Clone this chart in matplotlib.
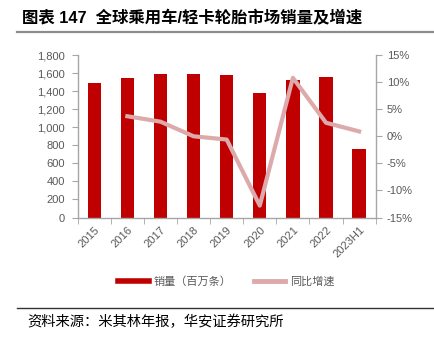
import matplotlib
matplotlib.use("Agg")
import matplotlib.pyplot as plt
from matplotlib.lines import Line2D
from matplotlib.ticker import FuncFormatter, FixedLocator

plt.rcParams['font.family'] = ['Liberation Sans', 'Noto Sans CJK SC', 'DejaVu Sans']

# Data
years = ['2015', '2016', '2017', '2018', '2019', '2020', '2021', '2022', '2023H1']
sales = [1490, 1542, 1587, 1585, 1575, 1377, 1520, 1557, 761]          # million units
growth = [None, 3.7, 2.7, 0.0, -0.6, -12.8, 10.8, 2.5, 0.9]             # YoY %

bar_color = '#C00000'
line_color = '#DCAAAA'
axis_gray = '#A6A6A6'
text_gray = '#595959'

fig = plt.figure(figsize=(4.35, 3.42), dpi=100)
ax = fig.add_axes([0.1786, 0.364, 0.685, 0.475])

x = list(range(len(years)))
ax.bar(x, sales, width=0.4, color=bar_color, zorder=2)
ax.set_xlim(-0.5, len(years) - 0.5)
ax.set_ylim(0, 1800)
ax.set_yticks(range(0, 1801, 200))
ax.yaxis.set_major_formatter(FuncFormatter(lambda v, p: f'{int(v):,}'))

ax.set_xticks(x)
ax.set_xticklabels(years, rotation=45, ha='right', rotation_mode='anchor')
ax.xaxis.set_minor_locator(FixedLocator([i - 0.5 for i in range(len(years) + 1)]))
ax.tick_params(axis='x', which='major', length=0, pad=5)
ax.tick_params(axis='x', which='minor', length=4, color=axis_gray, direction='out')
ax.tick_params(axis='y', length=4, color=axis_gray, direction='out', pad=5)
ax.tick_params(labelsize=8, labelcolor=text_gray)

for side in ['top', 'right']:
    ax.spines[side].set_visible(False)
for side in ['left', 'bottom']:
    ax.spines[side].set_color(axis_gray)
    ax.spines[side].set_linewidth(1.0)

ax2 = ax.twinx()
gx = [i for i, g in zip(x, growth) if g is not None]
gy = [g for g in growth if g is not None]
ax2.plot(gx, gy, color=line_color, linewidth=3.0, solid_joinstyle='round', zorder=3)
ax2.set_ylim(-15, 15)
ax2.set_yticks(range(-15, 16, 5))
ax2.yaxis.set_major_formatter(FuncFormatter(lambda v, p: f'{int(v)}%'))
ax2.tick_params(axis='y', length=4, color=axis_gray, direction='out', labelsize=8,
                labelcolor=text_gray, pad=4)
for side in ['top', 'left', 'bottom']:
    ax2.spines[side].set_visible(False)
ax2.spines['right'].set_color(axis_gray)
ax2.spines['right'].set_linewidth(1.0)

# Legend
handles = [Line2D([], [], color=bar_color, linewidth=4),
           Line2D([], [], color=line_color, linewidth=3.5)]
fig.legend(handles, ['销量（百万条）', '同比增速'], loc='center',
           bbox_to_anchor=(226 / 435, 1 - 282 / 342), ncol=2, frameon=False,
           labelcolor=text_gray, handlelength=2.8, handletextpad=0.45,
           columnspacing=2.0, prop={'family': ['Noto Sans CJK SC'], 'size': 8})

# Title and rules
fig.text(0.05, 1 - 18 / 342, '图表 147  全球乘用车/轻卡轮胎市场销量及增速',
         fontsize=11.8, fontweight='bold', va='center', ha='left', color='black',
         family=['Liberation Sans', 'Noto Sans CJK SC'])
fig.add_artist(Line2D([0.04, 1.0], [1 - 31.5 / 342] * 2, color='#8C8C8C', linewidth=1.6))
fig.add_artist(Line2D([0.04, 1.0], [1 - 308 / 342] * 2, color='#333333', linewidth=1.0))
fig.text(0.062, 1 - 322 / 342, '资料来源：米其林年报，华安证券研究所',
         fontsize=10.3, va='center', ha='left', color='black', family=['Noto Sans CJK SC'])

fig.savefig('out.png', dpi=100)
